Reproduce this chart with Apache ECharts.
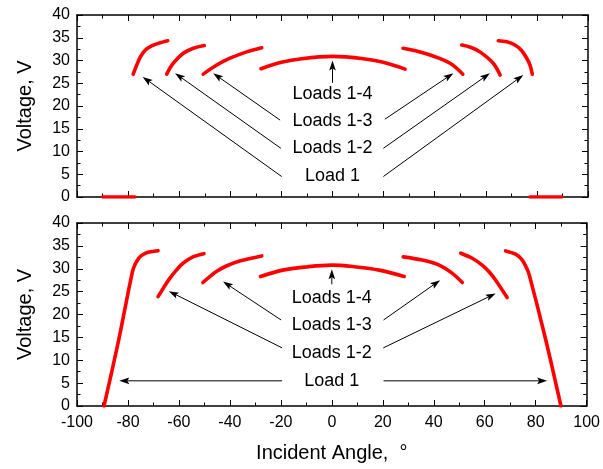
<!DOCTYPE html>
<html>
<head>
<meta charset="utf-8">
<script src="https://cdn.jsdelivr.net/npm/echarts@6/dist/echarts.min.js"></script>
<style>
  html, body { margin: 0; padding: 0; background: #fff; }
  #chart { width: 603px; height: 469px; }
</style>
</head>
<body>
<div id="chart"></div>
<script>
// ---- Upper panel: output voltage vs incident angle (angle in °, voltage in V)
const upperLoad1FlatLeft  = [[-89.9, 0], [-77.3, 0]];
const upperLoad1FlatRight = [[77.3, 0], [89.7, 0]];
const upperLoad1Left  = [[-78.0, 27.0], [-76.9, 28.6], [-75.3, 30.7], [-73.4, 32.2], [-70.8, 33.2], [-67.5, 33.9], [-64.5, 34.35]];
const upperLoad12Left = [[-64.9, 27.0], [-62.3, 29.4], [-58.4, 31.6], [-54.5, 32.7], [-50.2, 33.3]];
const upperLoad13Left = [[-50.6, 27.0], [-45.3, 29.0], [-40.1, 30.5], [-33.6, 31.9], [-27.7, 32.8]];
const upperLoad14     = [[-28.0, 28.2], [-20.0, 29.6], [-12.0, 30.4], [0, 30.9], [12.1, 30.4], [19.9, 29.6], [28.4, 28.1]];
const upperLoad13Right = [[27.6, 32.7], [32.0, 32.2], [38.2, 31.2], [46.0, 29.4], [51.0, 27.0]];
const upperLoad12Right = [[50.6, 33.4], [54.0, 32.9], [57.7, 31.9], [62.9, 29.4], [65.6, 26.8]];
const upperLoad1Right  = [[64.9, 34.35], [68.2, 34.1], [71.4, 33.4], [74.0, 32.2], [76.0, 30.5], [77.3, 29.0], [78.2, 27.0]];

// ---- Lower panel
const lowerLoad1Left  = [[-89.4, 0], [-83.8, 14.0], [-78.3, 29.2], [-77.2, 31.0], [-75.6, 32.4], [-74.7, 32.9], [-72.1, 33.6], [-68.2, 33.95]];
const lowerLoad12Left = [[-68.2, 23.9], [-66.2, 25.7], [-63.6, 27.9], [-61.0, 29.7], [-58.4, 31.2], [-54.5, 32.6], [-50.2, 33.3]];
const lowerLoad13Left = [[-50.6, 27.0], [-47.9, 28.3], [-45.3, 29.4], [-41.4, 30.6], [-36.2, 31.7], [-27.5, 32.8]];
const lowerLoad14     = [[-28.0, 28.3], [-19.3, 29.7], [-10.1, 30.4], [0, 30.8], [9.5, 30.4], [18.6, 29.7], [28.4, 28.3]];
const lowerLoad13Right = [[28.0, 32.6], [35.5, 31.9], [42.1, 30.8], [47.3, 29.0], [51.2, 27.0]];
const lowerLoad12Right = [[50.6, 33.4], [55.1, 32.3], [59.0, 30.8], [61.6, 29.4], [64.3, 27.5], [68.8, 23.7]];
const lowerLoad1Right  = [[68.2, 33.9], [72.1, 33.2], [74.6, 32.0], [76.4, 30.2], [77.5, 28.6], [83.8, 14.8], [89.9, 0]];

// ---- Annotation text and arrows (from [angle, V] to [angle, V])
const loadLabels = ['Loads 1-4', 'Loads 1-3', 'Loads 1-2', 'Load 1'];
const upperLabelAnchors = [[0, 22.6], [0, 16.7], [0, 10.8], [0, 4.6]];
const lowerLabelAnchors = [[0, 23.6], [0, 17.7], [0, 11.6], [0, 5.5]];
const upperArrows = [
  [0, 25.1, 0, 30.0],
  [-20.5, 16.9, -46.7, 27.2], [20.5, 17.1, 47.3, 27.2],
  [-20.2, 10.7, -61.6, 27.2], [19.9, 10.7, 61.6, 27.2],
  [-19.9, 4.5, -74.3, 26.4], [19.9, 4.5, 74.7, 26.8]
];
const lowerArrows = [
  [0, 26.6, 0, 29.9],
  [-19.9, 18.8, -42.7, 27.2], [20.3, 18.8, 42.5, 27.5],
  [-19.5, 12.7, -64.0, 25.1], [20.2, 12.7, 64.3, 24.6],
  [-19.5, 5.5, -83.4, 5.5], [20.3, 5.5, 84.5, 5.5]
];

const FONT = 'Liberation Sans';
const INK = '#000';

function curve(data, panel) {
  return {
    type: 'line', data: data,
    xAxisIndex: panel * 2, yAxisIndex: panel * 2,
    symbol: 'none', smooth: 0.35, silent: true,
    lineStyle: { color: '#ff0000', width: 3.6, cap: 'round' },
    z: 3
  };
}

function drawArrow(params, api) {
  const p1 = api.coord([api.value(0), api.value(1)]);
  const p2 = api.coord([api.value(2), api.value(3)]);
  const dx = p2[0] - p1[0], dy = p2[1] - p1[1];
  const L = Math.hypot(dx, dy);
  const ux = dx / L, uy = dy / L, nx = -uy, ny = ux;
  const len = 10, hw = 3.3;
  const bx = p2[0] - ux * len, by = p2[1] - uy * len;
  const mx = p2[0] - ux * len * 0.8, my = p2[1] - uy * len * 0.8;
  return {
    type: 'group',
    children: [
      { type: 'line', shape: { x1: p1[0], y1: p1[1], x2: mx, y2: my },
        style: { stroke: INK, lineWidth: 1 } },
      { type: 'polygon', shape: { points: [[p2[0], p2[1]], [bx + nx * hw, by + ny * hw], [mx, my], [bx - nx * hw, by - ny * hw]] },
        style: { fill: INK } }
    ]
  };
}

function drawLabel(params, api) {
  const p = api.coord([api.value(0), api.value(1)]);
  return {
    type: 'text', x: p[0], y: p[1],
    style: { text: loadLabels[params.dataIndex], fill: INK, fontSize: 18, fontFamily: FONT,
             align: 'center', verticalAlign: 'middle' }
  };
}

function arrows(data, panel) {
  return { type: 'custom', data: data, xAxisIndex: panel * 2, yAxisIndex: panel * 2,
           renderItem: drawArrow, silent: true, z: 4, clip: false };
}
function labels(data, panel) {
  return { type: 'custom', data: data, xAxisIndex: panel * 2, yAxisIndex: panel * 2,
           renderItem: drawLabel, silent: true, z: 5, clip: false };
}

function xAxis(grid, position, showLabels, name) {
  return {
    type: 'value', gridIndex: grid, position: position, min: -100, max: 100, interval: 20,
    axisLine: { show: true, onZero: false, lineStyle: { color: INK, width: 1.5 } },
    axisTick: { show: true, inside: true, length: 6, lineStyle: { color: INK, width: 1 } },
    minorTick: { show: true, splitNumber: 2, length: 3.5, lineStyle: { color: INK, width: 1 } },
    splitLine: { show: false },
    axisLabel: { show: showLabels, color: INK, fontSize: 16, fontFamily: FONT, margin: 9 },
    name: name || '', nameLocation: 'middle', nameGap: 37,
    nameTextStyle: { color: INK, fontSize: 20, fontFamily: FONT }
  };
}
function yAxis(grid, position, showLabels, name) {
  return {
    type: 'value', gridIndex: grid, position: position, min: 0, max: 40, interval: 5,
    axisLine: { show: true, onZero: false, lineStyle: { color: INK, width: 1.5 } },
    axisTick: { show: true, inside: true, length: 6, lineStyle: { color: INK, width: 1 } },
    minorTick: { show: true, splitNumber: 2, length: 3.5, lineStyle: { color: INK, width: 1 } },
    splitLine: { show: false },
    axisLabel: { show: showLabels, color: INK, fontSize: 16, fontFamily: FONT, margin: 7 },
    name: name || '', nameLocation: 'middle', nameGap: 42,
    nameTextStyle: { color: INK, fontSize: 20, fontFamily: FONT }
  };
}

const chart = echarts.init(document.getElementById('chart'), null, { renderer: 'canvas' });
chart.setOption({
  animation: false,
  backgroundColor: '#fff',
  grid: [
    { left: 77, top: 15, width: 511, height: 182 },
    { left: 77, top: 223, width: 511, height: 183 }
  ],
  xAxis: [
    xAxis(0, 'bottom', false),
    xAxis(0, 'top', false),
    xAxis(1, 'bottom', true, 'Incident Angle,  \u00B0'),
    xAxis(1, 'top', false)
  ],
  yAxis: [
    yAxis(0, 'left', true, 'Voltage, V'),
    yAxis(0, 'right', false),
    yAxis(1, 'left', true, 'Voltage, V'),
    yAxis(1, 'right', false)
  ],
  series: [
    curve(upperLoad1FlatLeft, 0), curve(upperLoad1FlatRight, 0),
    curve(upperLoad1Left, 0), curve(upperLoad12Left, 0), curve(upperLoad13Left, 0),
    curve(upperLoad14, 0),
    curve(upperLoad13Right, 0), curve(upperLoad12Right, 0), curve(upperLoad1Right, 0),
    curve(lowerLoad1Left, 1), curve(lowerLoad12Left, 1), curve(lowerLoad13Left, 1),
    curve(lowerLoad14, 1),
    curve(lowerLoad13Right, 1), curve(lowerLoad12Right, 1), curve(lowerLoad1Right, 1),
    arrows(upperArrows, 0), arrows(lowerArrows, 1),
    labels(upperLabelAnchors, 0), labels(lowerLabelAnchors, 1)
  ]
});
</script>
</body>
</html>
